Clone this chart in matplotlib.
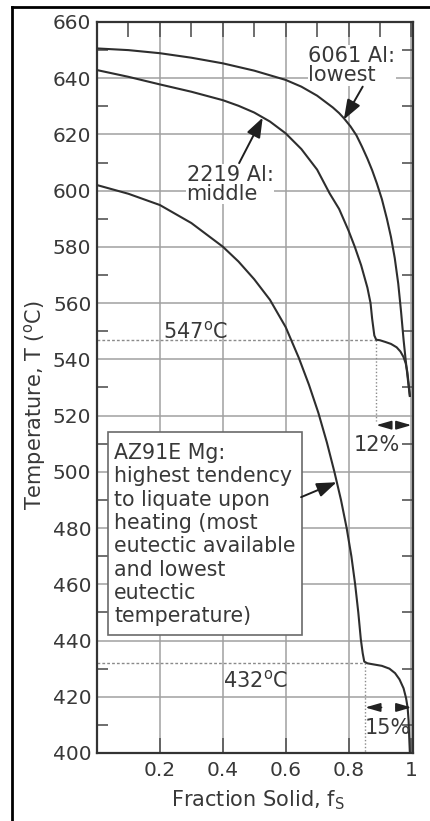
import matplotlib
matplotlib.use("Agg")
import matplotlib.pyplot as plt
from matplotlib.lines import Line2D
from matplotlib.patches import Rectangle

# ---------------- data ----------------
fs_6061 = [0.0, 0.1, 0.2, 0.3, 0.4, 0.5, 0.6, 0.65, 0.7, 0.75, 0.77, 0.785, 0.806,
           0.825, 0.843, 0.86, 0.875, 0.89, 0.906, 0.922, 0.935, 0.947, 0.958,
           0.967, 0.975, 0.981, 0.986, 0.99, 0.995]
T_6061 = [650.6, 650.0, 648.9, 647.3, 645.3, 642.7, 639.4, 637.0, 633.8, 629.6,
          627.6, 625.8, 622.9, 619.7, 615.6, 611.4, 607.3, 602.6, 597.0, 590.0,
          583.5, 576.0, 567.0, 557.0, 547.0, 540.5, 535.5, 531.5, 527.0]

fs_2219 = [0.0, 0.1, 0.2, 0.3, 0.4, 0.45, 0.5, 0.55, 0.6, 0.65, 0.7, 0.74, 0.77,
           0.8, 0.82, 0.84, 0.86, 0.87, 0.875, 0.882, 0.888, 0.9, 0.917, 0.935,
           0.953, 0.965, 0.975, 0.982, 0.987, 0.991, 0.995]
T_2219 = [642.9, 640.5, 637.8, 635.2, 632.2, 630.2, 627.8, 624.6, 620.4, 614.8,
          607.5, 599.0, 593.5, 585.8, 580.0, 573.5, 565.5, 560.0, 554.5, 548.5,
          547.0, 546.8, 546.2, 545.5, 544.3, 542.8, 540.8, 538.5, 535.5, 531.5, 527.0]

fs_az91e = [0.0, 0.1, 0.2, 0.3, 0.4, 0.45, 0.5, 0.55, 0.6, 0.642, 0.674, 0.704,
            0.731, 0.755, 0.776, 0.794, 0.809, 0.821, 0.831, 0.839, 0.845, 0.85,
            0.86, 0.88, 0.906, 0.93, 0.948, 0.962, 0.975, 0.983, 0.988, 0.991,
            0.993, 0.995]
T_az91e = [602.0, 598.9, 594.9, 588.5, 580.1, 574.8, 568.5, 561.2, 551.5, 540.5,
           531.0, 521.0, 510.5, 500.0, 490.0, 480.0, 470.0, 460.0, 450.0, 440.5,
           435.5, 432.5, 431.9, 431.5, 431.0, 430.0, 428.4, 426.2, 423.0, 419.5,
           416.0, 411.5, 405.5, 400.0]

eutectic_T = [547, 432]
eutectic_fs = [0.888, 0.853]
eutectic_gap_label = ["12%", "15%"]
eutectic_labels = ["547$^{\\rm o}$C", "432$^{\\rm o}$C"]

x_ticks = [0.2, 0.4, 0.6, 0.8, 1.0]
x_tick_labels = ["0.2", "0.4", "0.6", "0.8", "1"]
y_ticks = list(range(400, 661, 20))

# ---------------- figure ----------------
plt.rcParams['font.family'] = ['DejaVu Sans']
W, H = 430, 821
fig = plt.figure(figsize=(W / 100, H / 100), dpi=100)
fig.patch.set_facecolor('white')

# outer frame (left and top edges visible)
fig.add_artist(Line2D([12 / W, 12 / W], [0, 1 - 7 / H], transform=fig.transFigure,
                      color='black', lw=2.0))
fig.add_artist(Line2D([12 / W, 1], [1 - 7 / H, 1 - 7 / H], transform=fig.transFigure,
                      color='black', lw=2.0))

ax = fig.add_axes([97 / W, (H - 753) / H, 316 / W, 731 / H])
ax.set_xlim(0, 1.005)
ax.set_ylim(400, 660)

txt_c = '#383838'
line_c = '#2e2e2e'
grid_c = '#a0a0a0'

ax.set_xticks(x_ticks)
ax.set_xticklabels(x_tick_labels)
ax.set_xticks([0.1, 0.3, 0.5, 0.7, 0.9], minor=True)
ax.set_yticks(y_ticks)
ax.set_yticks(list(range(410, 660, 20)), minor=True)

ax.grid(True, which='major', color=grid_c, lw=1.1, zorder=0)
ax.set_axisbelow(True)

ax.tick_params(axis='x', which='major', direction='in', length=11, width=1.2,
               color='#555555', top=True, labelsize=14.5, labelcolor=txt_c, pad=6)
ax.tick_params(axis='x', which='minor', direction='in', length=11, width=1.2,
               color='#555555', top=True, bottom=False)
ax.tick_params(axis='y', which='major', length=0, labelsize=14.5, labelcolor=txt_c, pad=4)
ax.tick_params(axis='y', which='minor', direction='in', length=8, width=1.2,
               color='#555555', right=True)

for s in ax.spines.values():
    s.set_color('#333333')
    s.set_linewidth(1.6)

# curves
ax.plot(fs_6061, T_6061, color=line_c, lw=1.5, zorder=3)
ax.plot(fs_2219, T_2219, color=line_c, lw=1.5, zorder=3)
ax.plot(fs_az91e, T_az91e, color=line_c, lw=1.5, zorder=3)

# eutectic dotted lines
dot_c = '#8a8a8a'
ax.plot([0, eutectic_fs[0]], [eutectic_T[0], eutectic_T[0]], ls=(0, (2, 1.5)),
        color=dot_c, lw=1.0, zorder=2)
ax.plot([eutectic_fs[0], eutectic_fs[0]], [eutectic_T[0], 518], ls=(0, (1, 1.5)),
        color=dot_c, lw=1.0, zorder=2)
ax.plot([0, eutectic_fs[1]], [eutectic_T[1], eutectic_T[1]], ls=(0, (2, 1.5)),
        color=dot_c, lw=1.0, zorder=2)
ax.plot([eutectic_fs[1], eutectic_fs[1]], [eutectic_T[1], 400], ls=(0, (1, 1.5)),
        color=dot_c, lw=1.0, zorder=2)

ax.text(0.313, 549.8, eutectic_labels[0], fontsize=15, color=txt_c,
        ha='center', va='center', zorder=4)
ax.text(0.503, 426.0, eutectic_labels[1], fontsize=15, color=txt_c,
        ha='center', va='center', zorder=4)

# gap arrows
arrow_kw = dict(arrowstyle='-|>,head_length=0.45,head_width=0.13', color='#222222',
                lw=1.2, shrinkA=0, shrinkB=0, mutation_scale=20)
ax.annotate('', xy=(eutectic_fs[0], 516.6), xytext=(0.928, 516.6), arrowprops=arrow_kw)
ax.annotate('', xy=(1.0, 516.6), xytext=(0.958, 516.6), arrowprops=arrow_kw)
ax.annotate('', xy=(eutectic_fs[1], 416.2), xytext=(0.905, 416.2), arrowprops=arrow_kw)
ax.annotate('', xy=(1.0, 416.2), xytext=(0.952, 416.2), arrowprops=arrow_kw)
ax.text(0.889, 509.5, eutectic_gap_label[0], fontsize=15, color=txt_c,
        ha='center', va='center', zorder=4)
ax.text(0.925, 409.0, eutectic_gap_label[1], fontsize=15, color=txt_c,
        ha='center', va='center', zorder=4)

# labels for curves
lab_bbox = dict(facecolor='white', edgecolor='none', pad=0.5)
ax.text(0.672, 651.5, "6061 Al:\nlowest", fontsize=15, color=txt_c, ha='left',
        va='top', linespacing=0.95, bbox=lab_bbox, zorder=4)
ax.text(0.285, 609.3, "2219 Al:\nmiddle", fontsize=15, color=txt_c, ha='left',
        va='top', linespacing=0.95, bbox=lab_bbox, zorder=4)

big_head = dict(arrowstyle='-|>,head_length=0.6,head_width=0.22', color='#1e1e1e',
                lw=1.4, shrinkA=0, shrinkB=0, mutation_scale=20)
ax.annotate('', xy=(0.785, 625.3), xytext=(0.845, 637.0), arrowprops=big_head, zorder=5)
ax.annotate('', xy=(0.527, 626.0), xytext=(0.452, 609.8), arrowprops=big_head, zorder=5)
ax.annotate('', xy=(0.762, 496.3), xytext=(0.649, 491.0), arrowprops=big_head, zorder=5)

# AZ91E box
box = Rectangle((0.035, 441.9), 0.652 - 0.035, 514.2 - 441.9, facecolor='white',
                edgecolor='#6a6a6a', lw=1.2, zorder=4)
ax.add_patch(box)
ax.text(0.055, 510.3,
        "AZ91E Mg:\nhighest tendency\nto liquate upon\nheating (most\n"
        "eutectic available\nand lowest\neutectic\ntemperature)",
        fontsize=14.8, color=txt_c, ha='left', va='top', linespacing=1.21, zorder=5)

# axis labels
fig.text(35 / W, 1 - 405 / H, "Temperature, T ($^{\\rm o}$C)", rotation=90,
         fontsize=15, color=txt_c, ha='center', va='center')
fig.text(258 / W, 1 - 800 / H, "Fraction Solid, f$_{\\rm S}$", fontsize=15,
         color=txt_c, ha='center', va='center')

fig.savefig('out.png', dpi=100, facecolor='white')
